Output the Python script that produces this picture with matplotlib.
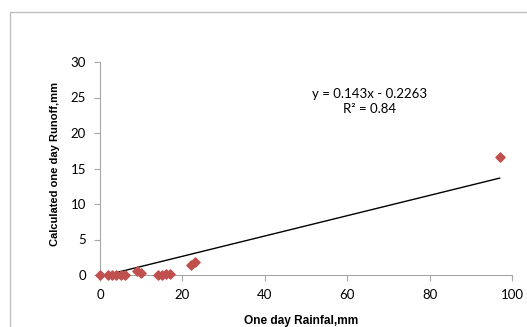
import numpy as np
import matplotlib
matplotlib.use('Agg')
import matplotlib.pyplot as plt
import matplotlib.patches as mpatches

# Rainfall vs calculated runoff
rainfall = [0, 2, 3, 4, 5, 6, 9, 10, 14, 15, 16, 17, 22, 23, 97]
runoff = [0, 0, 0, 0, 0, 0, 0.5, 0.3, 0, 0.05, 0.1, 0.2, 1.4, 1.8, 16.6]
slope, intercept = 0.143, -0.2263
x_ticks = [0, 20, 40, 60, 80, 100]
y_ticks = [0, 5, 10, 15, 20, 25, 30]

tick_font = 'Lato'
label_font = 'Liberation Sans'
axis_grey = '#A6A6A6'

fig = plt.figure(figsize=(5.27, 3.27), dpi=100)

# chart area border (runs off the right and bottom of the image)
fig.patches.append(mpatches.Rectangle((10 / 527, -0.1), 1.2, 1 - 12 / 327 + 0.1,
                                      transform=fig.transFigure, fill=False,
                                      edgecolor='#BFBFBF', lw=1.0))

ax = fig.add_axes([100 / 527, 1 - 275 / 327, 412 / 527, 213 / 327])
ax.scatter(rainfall, runoff, marker='D', s=22, color='#C0504D', zorder=3, clip_on=False)

xfit = np.array([min(rainfall), max(rainfall)])
ax.plot(xfit, slope * xfit + intercept, color='black', lw=1.0, zorder=2)

ax.set_xlim(0, 100)
ax.set_ylim(0, 30)
ax.set_xticks(x_ticks)
ax.set_yticks(y_ticks)
for side in ['top', 'right']:
    ax.spines[side].set_visible(False)
for side in ['left', 'bottom']:
    ax.spines[side].set_color(axis_grey)
ax.tick_params(colors=axis_grey, length=4, width=0.8, direction='out')
ax.tick_params(labelcolor='black', labelsize=9.5, pad=6)
for lbl in ax.get_xticklabels() + ax.get_yticklabels():
    lbl.set_family(tick_font)

ax.set_xlabel('One day Rainfal,mm', family=label_font, fontweight='bold', fontsize=8.6)
ax.xaxis.set_label_coords(0.488, -0.19)
ax.set_ylabel('Calculated one day Runoff,mm', family=label_font, fontweight='bold', fontsize=8)
ax.yaxis.set_label_coords(-0.097, 0.52)

ax.text(0.655, 0.815, 'y = 0.143x - 0.2263\nR² = 0.84', transform=ax.transAxes,
        ha='center', va='center', family=tick_font, fontsize=9.5, linespacing=1.25)

fig.savefig('out.png', dpi=100)
